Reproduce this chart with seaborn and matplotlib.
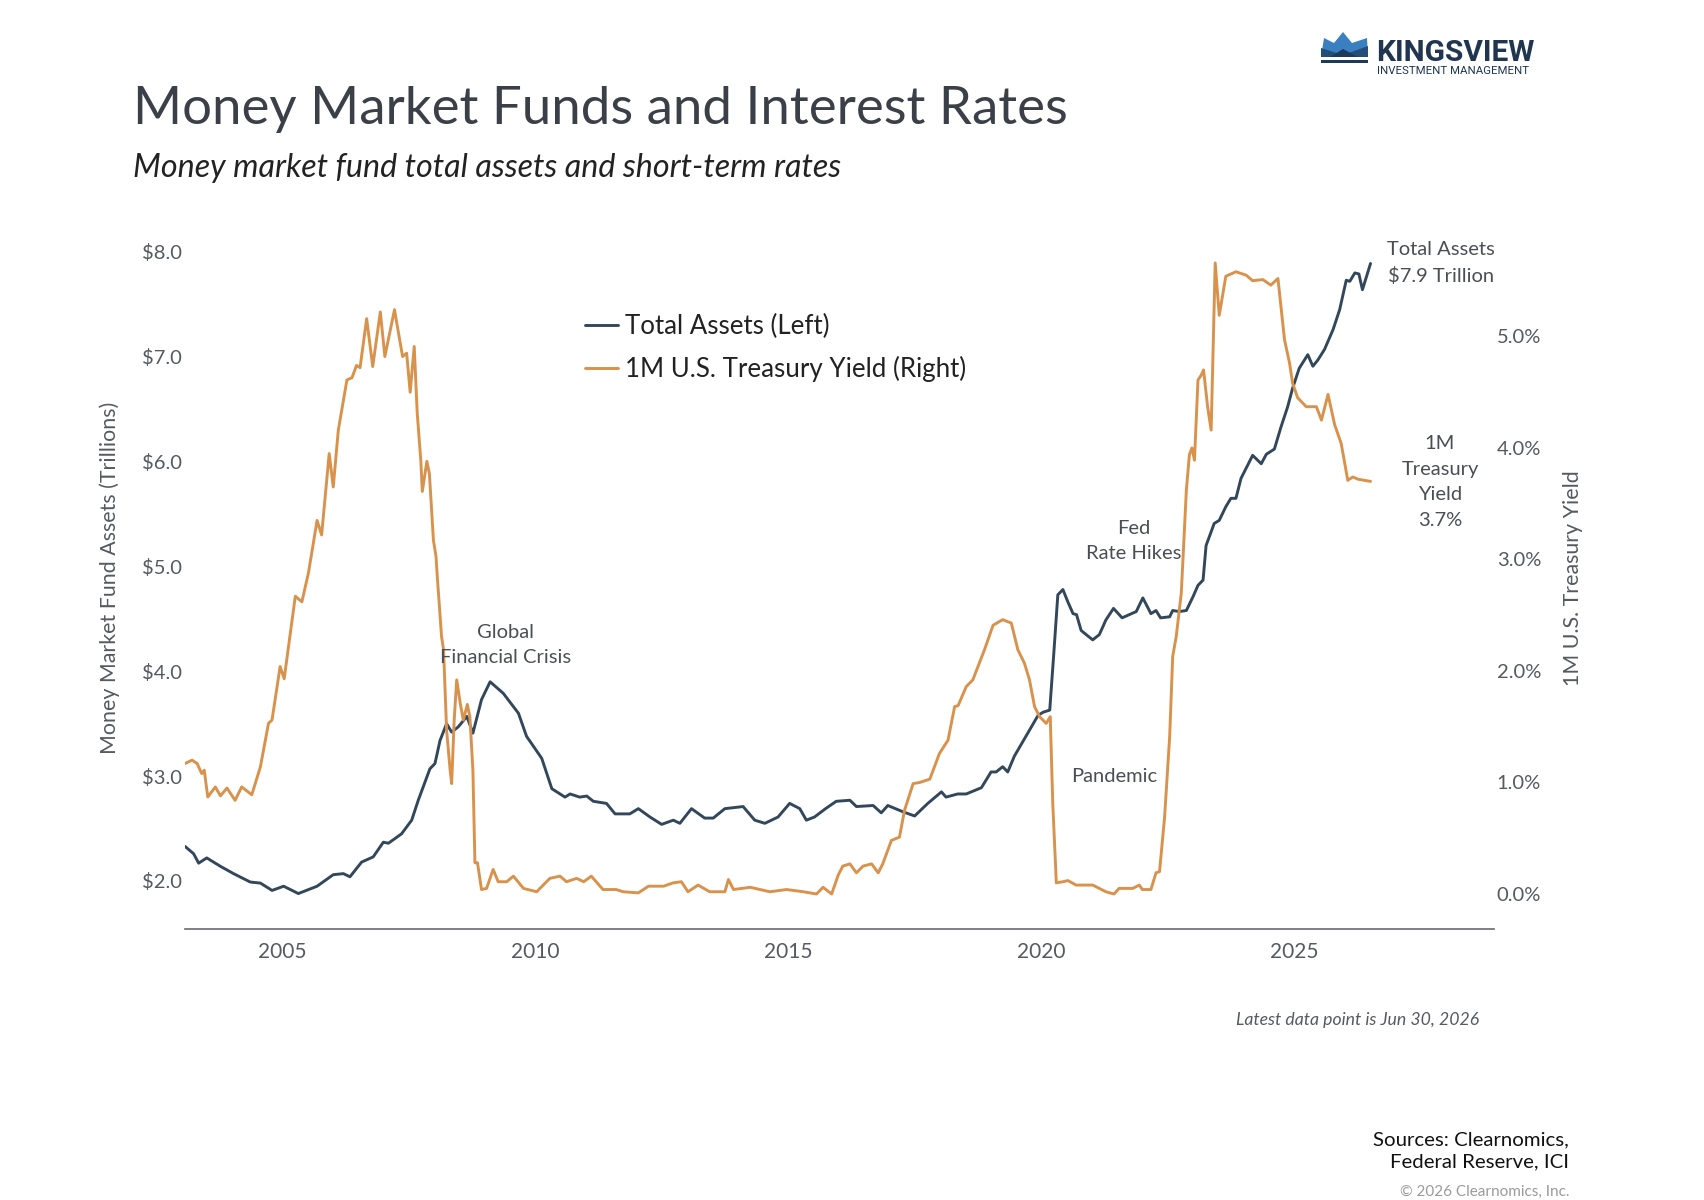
import pandas as pd
import matplotlib.pyplot as plt
import seaborn as sns
from matplotlib.patches import Polygon, Rectangle
from matplotlib.lines import Line2D

# Total assets of money market funds ($ trillions)
asset_years = [2003.07, 2003.24, 2003.34, 2003.50, 2003.77, 2004.03, 2004.36, 2004.56, 2004.79, 2005.02,
               2005.31, 2005.68, 2006.00, 2006.20, 2006.33, 2006.56, 2006.79, 2006.99, 2007.09, 2007.35,
               2007.55, 2007.68, 2007.91, 2008.01, 2008.11, 2008.24, 2008.34, 2008.47, 2008.64, 2008.76,
               2008.93, 2009.10, 2009.36, 2009.66, 2009.82, 2010.12, 2010.32, 2010.58, 2010.68, 2010.87,
               2011.01, 2011.14, 2011.40, 2011.57, 2011.86, 2012.03, 2012.26, 2012.49, 2012.72, 2012.85,
               2013.08, 2013.34, 2013.51, 2013.74, 2014.10, 2014.33, 2014.53, 2014.79, 2015.02, 2015.22,
               2015.35, 2015.51, 2015.73, 2015.94, 2016.21, 2016.34, 2016.67, 2016.83, 2016.96, 2017.26,
               2017.49, 2017.75, 2018.02, 2018.11, 2018.34, 2018.51, 2018.81, 2019.00, 2019.10, 2019.23,
               2019.33, 2019.46, 2019.69, 2019.93, 2020.03, 2020.16, 2020.24, 2020.32, 2020.42, 2020.52,
               2020.62, 2020.69, 2020.78, 2020.88, 2021.01, 2021.14, 2021.27, 2021.42, 2021.59, 2021.87,
               2022.00, 2022.16, 2022.26, 2022.35, 2022.53, 2022.59, 2022.72, 2022.86, 2022.99, 2023.09,
               2023.19, 2023.25, 2023.41, 2023.51, 2023.64, 2023.74, 2023.84, 2023.94, 2024.17, 2024.34,
               2024.44, 2024.60, 2024.73, 2024.86, 2024.96, 2025.09, 2025.26, 2025.36, 2025.46, 2025.59,
               2025.76, 2025.89, 2026.02, 2026.09, 2026.19, 2026.27, 2026.34, 2026.50]
total_assets = [2.33, 2.26, 2.17, 2.22, 2.14, 2.07, 1.99, 1.98, 1.91, 1.95,
                1.88, 1.95, 2.06, 2.07, 2.04, 2.18, 2.23, 2.37, 2.36, 2.45,
                2.58, 2.77, 3.07, 3.12, 3.34, 3.50, 3.42, 3.47, 3.57, 3.41,
                3.73, 3.90, 3.79, 3.60, 3.38, 3.17, 2.88, 2.80, 2.83, 2.80,
                2.81, 2.76, 2.74, 2.64, 2.64, 2.69, 2.61, 2.54, 2.58, 2.55,
                2.69, 2.60, 2.60, 2.69, 2.71, 2.58, 2.55, 2.61, 2.74, 2.69,
                2.58, 2.61, 2.69, 2.76, 2.77, 2.71, 2.72, 2.65, 2.72, 2.66,
                2.62, 2.74, 2.85, 2.80, 2.83, 2.83, 2.89, 3.04, 3.04, 3.09,
                3.04, 3.19, 3.38, 3.58, 3.61, 3.63, 4.17, 4.73, 4.78, 4.66,
                4.55, 4.54, 4.39, 4.35, 4.30, 4.35, 4.49, 4.60, 4.51, 4.57,
                4.70, 4.55, 4.58, 4.51, 4.52, 4.58, 4.57, 4.58, 4.71, 4.82,
                4.87, 5.20, 5.41, 5.44, 5.57, 5.65, 5.65, 5.84, 6.06, 5.98,
                6.07, 6.12, 6.33, 6.52, 6.70, 6.89, 7.02, 6.91, 6.97, 7.07,
                7.26, 7.45, 7.73, 7.72, 7.80, 7.79, 7.64, 7.89]

# 1M U.S. Treasury yield (%)
yield_years = [2003.07, 2003.21, 2003.31, 2003.40, 2003.45, 2003.52, 2003.67, 2003.77, 2003.90, 2004.06,
               2004.19, 2004.39, 2004.56, 2004.72, 2004.79, 2004.95, 2005.03, 2005.25, 2005.38, 2005.51,
               2005.68, 2005.77, 2005.92, 2006.00, 2006.10, 2006.27, 2006.37, 2006.46, 2006.53, 2006.66,
               2006.78, 2006.93, 2007.02, 2007.21, 2007.37, 2007.45, 2007.52, 2007.60, 2007.66, 2007.70,
               2007.73, 2007.76, 2007.85, 2007.90, 2007.98, 2008.03, 2008.06, 2008.14, 2008.18, 2008.24,
               2008.31, 2008.34, 2008.39, 2008.44, 2008.51, 2008.57, 2008.65, 2008.70, 2008.76, 2008.80,
               2008.85, 2008.93, 2009.03, 2009.16, 2009.26, 2009.43, 2009.56, 2009.76, 2010.02, 2010.28,
               2010.48, 2010.61, 2010.81, 2010.95, 2011.10, 2011.33, 2011.59, 2011.73, 2012.03, 2012.23,
               2012.53, 2012.72, 2012.88, 2013.01, 2013.21, 2013.44, 2013.74, 2013.81, 2013.91, 2014.24,
               2014.63, 2014.96, 2015.29, 2015.55, 2015.68, 2015.85, 2015.98, 2016.07, 2016.21, 2016.34,
               2016.47, 2016.64, 2016.77, 2016.86, 2017.03, 2017.19, 2017.29, 2017.46, 2017.59, 2017.79,
               2017.98, 2018.15, 2018.28, 2018.35, 2018.51, 2018.64, 2018.87, 2019.04, 2019.23, 2019.40,
               2019.53, 2019.66, 2019.76, 2019.86, 2019.96, 2020.09, 2020.17, 2020.22, 2020.29, 2020.42,
               2020.52, 2020.68, 2021.01, 2021.27, 2021.43, 2021.53, 2021.80, 2021.93, 2021.99, 2022.16,
               2022.26, 2022.33, 2022.43, 2022.53, 2022.59, 2022.66, 2022.76, 2022.86, 2022.92, 2022.97,
               2023.02, 2023.09, 2023.15, 2023.20, 2023.28, 2023.35, 2023.43, 2023.51, 2023.64, 2023.84,
               2024.04, 2024.17, 2024.37, 2024.53, 2024.67, 2024.73, 2024.80, 2024.90, 2024.96, 2025.06,
               2025.23, 2025.43, 2025.53, 2025.66, 2025.79, 2025.92, 2026.05, 2026.15, 2026.25, 2026.38,
               2026.50]
treasury_yield = [1.17, 1.20, 1.17, 1.08, 1.11, 0.87, 0.96, 0.88, 0.95, 0.84,
                  0.96, 0.89, 1.14, 1.53, 1.56, 2.04, 1.93, 2.67, 2.62, 2.88,
                  3.35, 3.22, 3.95, 3.65, 4.16, 4.61, 4.63, 4.74, 4.72, 5.16,
                  4.73, 5.22, 4.82, 5.24, 4.82, 4.85, 4.50, 4.91, 4.31, 4.07,
                  3.89, 3.61, 3.88, 3.77, 3.17, 3.03, 2.82, 2.31, 2.19, 1.47,
                  1.11, 0.99, 1.56, 1.92, 1.71, 1.56, 1.70, 1.59, 1.11, 0.28,
                  0.28, 0.04, 0.05, 0.22, 0.11, 0.11, 0.16, 0.05, 0.02, 0.14,
                  0.16, 0.11, 0.14, 0.11, 0.16, 0.04, 0.04, 0.02, 0.01, 0.07,
                  0.07, 0.10, 0.11, 0.02, 0.08, 0.02, 0.02, 0.13, 0.04, 0.06,
                  0.02, 0.04, 0.02, 0.00, 0.06, 0.00, 0.17, 0.25, 0.27, 0.19,
                  0.25, 0.27, 0.19, 0.27, 0.48, 0.51, 0.75, 0.99, 1.00, 1.03,
                  1.26, 1.38, 1.68, 1.69, 1.86, 1.92, 2.19, 2.41, 2.46, 2.43,
                  2.19, 2.07, 1.92, 1.68, 1.59, 1.53, 1.59, 0.81, 0.10, 0.11,
                  0.12, 0.08, 0.08, 0.02, 0.00, 0.05, 0.05, 0.08, 0.04, 0.04,
                  0.19, 0.20, 0.69, 1.41, 2.13, 2.31, 2.70, 3.62, 3.94, 4.00,
                  3.89, 4.61, 4.65, 4.70, 4.37, 4.16, 5.66, 5.19, 5.54, 5.58,
                  5.55, 5.50, 5.51, 5.46, 5.52, 5.27, 4.97, 4.76, 4.58, 4.45,
                  4.37, 4.37, 4.25, 4.48, 4.21, 4.04, 3.71, 3.74, 3.72, 3.71,
                  3.70]

x_ticks = [2005, 2010, 2015, 2020, 2025]
left_ticks = [2, 3, 4, 5, 6, 7, 8]
right_ticks = [0, 1, 2, 3, 4, 5]

df_assets = pd.DataFrame({'year': asset_years, 'assets': total_assets})
df_yield = pd.DataFrame({'year': yield_years, 'yield': treasury_yield})

sns.set_theme(style="white")
plt.rcParams['font.family'] = ['Lato', 'DejaVu Sans']

W, H = 1704, 1200
def fx(x):
    return x / W
def fy(y):
    return 1 - y / H

NAVY = '#33475b'
ORANGE = '#d8924c'
GREY = '#555a60'

fig = plt.figure(figsize=(17.04, 12), dpi=100)
ax = fig.add_axes([fx(185), fy(929), fx(1494) - fx(185), fy(240) - fy(929)])
ax2 = ax.twinx()

sns.lineplot(data=df_assets, x='year', y='assets', ax=ax, color=NAVY, linewidth=2.1, legend=False)
sns.lineplot(data=df_yield, x='year', y='yield', ax=ax2, color=ORANGE, linewidth=2.1, legend=False)

ax.set_xlim(2003.07, 2028.94)
ax.set_ylim(1.542, 8.114)
ax2.set_ylim(-0.314, 5.865)

ax.set_xticks(x_ticks)
ax.set_xticklabels([str(t) for t in x_ticks])
ax.set_yticks(left_ticks)
ax.set_yticklabels([f'${t:.1f}' for t in left_ticks])
ax2.set_yticks(right_ticks)
ax2.set_yticklabels([f'{t:.1f}%' for t in right_ticks])

ax.tick_params(axis='x', length=0, pad=9, labelsize=15, labelcolor=GREY)
ax.tick_params(axis='y', length=0, pad=2, labelsize=14.5, labelcolor=GREY)
ax2.tick_params(axis='y', length=0, pad=2, labelsize=14.5, labelcolor=GREY)

for a in (ax, ax2):
    for s in ['top', 'left', 'right', 'bottom']:
        a.spines[s].set_visible(False)
    a.grid(False)
ax.spines['bottom'].set_visible(True)
ax.spines['bottom'].set_color('#666a70')
ax.spines['bottom'].set_linewidth(1.2)

ax.set_xlabel('')
ax.set_ylabel('Money Market Fund Assets (Trillions)', fontsize=15.4, color=GREY)
ax.yaxis.set_label_coords(-0.050, 0.509)
ax2.set_ylabel('1M U.S. Treasury Yield', fontsize=15.4, color=GREY, rotation=90)
ax2.yaxis.set_label_coords(1.0527, 0.509)

handles = [Line2D([0], [0], color=NAVY, lw=2.1), Line2D([0], [0], color=ORANGE, lw=2.1)]
fig.legend(handles, ['Total Assets (Left)', '1M U.S. Treasury Yield (Right)'],
           loc='upper left', bbox_to_anchor=(fx(585), fy(314)), frameon=False,
           fontsize=18.6, handlelength=1.26, handletextpad=0.3, labelspacing=0.64,
           borderpad=0, borderaxespad=0, labelcolor='#222222')

# titles
fig.text(fx(133), fy(124), 'Money Market Funds and Interest Rates', fontsize=38,
         color='#3b4048', ha='left', va='baseline')
fig.text(fx(133), fy(177), 'Money market fund total assets and short-term rates', fontsize=23.2,
         style='italic', color='#222222', ha='left', va='baseline')

# annotations
ann = dict(fontsize=14.5, color='#4a4f55', ha='center', va='center', linespacing=1.6)
fig.text(fx(506), fy(645), 'Global\nFinancial Crisis', **ann)
fig.text(fx(1134), fy(541), 'Fed\nRate Hikes', **ann)
fig.text(fx(1114), fy(777), 'Pandemic', **ann)
fig.text(fx(1441), fy(263), 'Total Assets\n$7.9 Trillion', **ann)
fig.text(fx(1440), fy(482), '1M\nTreasury\nYield\n3.7%', **ann)

fig.text(fx(1479), fy(1020), 'Latest data point is Jun 30, 2026', fontsize=12.7, style='italic',
         color=GREY, ha='right', va='center')
fig.text(fx(1569), fy(1151), 'Sources: Clearnomics,\nFederal Reserve, ICI', fontsize=14.7,
         color='#111111', ha='right', va='center', multialignment='right', linespacing=1.35)
fig.text(fx(1569), fy(1199), '\u00a9 2026 Clearnomics, Inc.', fontsize=11, color='#9a9a9a',
         ha='right', va='bottom')

# logo
logo = fig.add_axes([fx(1310), fy(80), fx(1560) - fx(1310), fy(25) - fy(80)])
logo.set_xlim(1310, 1560)
logo.set_ylim(80, 25)
logo.axis('off')
logo.add_patch(Polygon([(1321, 57), (1324, 38), (1334, 43), (1343, 32), (1352, 43),
                        (1367, 38), (1368, 57)], closed=True, color='#3a7fbf', lw=0))
logo.add_patch(Polygon([(1321, 57), (1321, 48), (1343, 55), (1368, 46), (1368, 57)],
                       closed=True, color='#244e7a', lw=0))
logo.add_patch(Polygon([(1330, 57), (1343, 49), (1358, 57)], closed=True, color='#1b3a5c', lw=0))
logo.add_patch(Rectangle((1321, 59.5), 47, 3, color='#1b3a5c', lw=0))
logo.text(1376, 61, 'KINGSVIEW', fontsize=21.5, fontweight='bold', color='#1f3550',
          family=['Roboto', 'DejaVu Sans'], ha='left', va='baseline')
logo.text(1377, 74.5, 'INVESTMENT MANAGEMENT', fontsize=8.2, color='#1f3550',
          family=['Roboto', 'DejaVu Sans'], ha='left', va='baseline')

plt.savefig('out.png', dpi=100)
plt.close()
